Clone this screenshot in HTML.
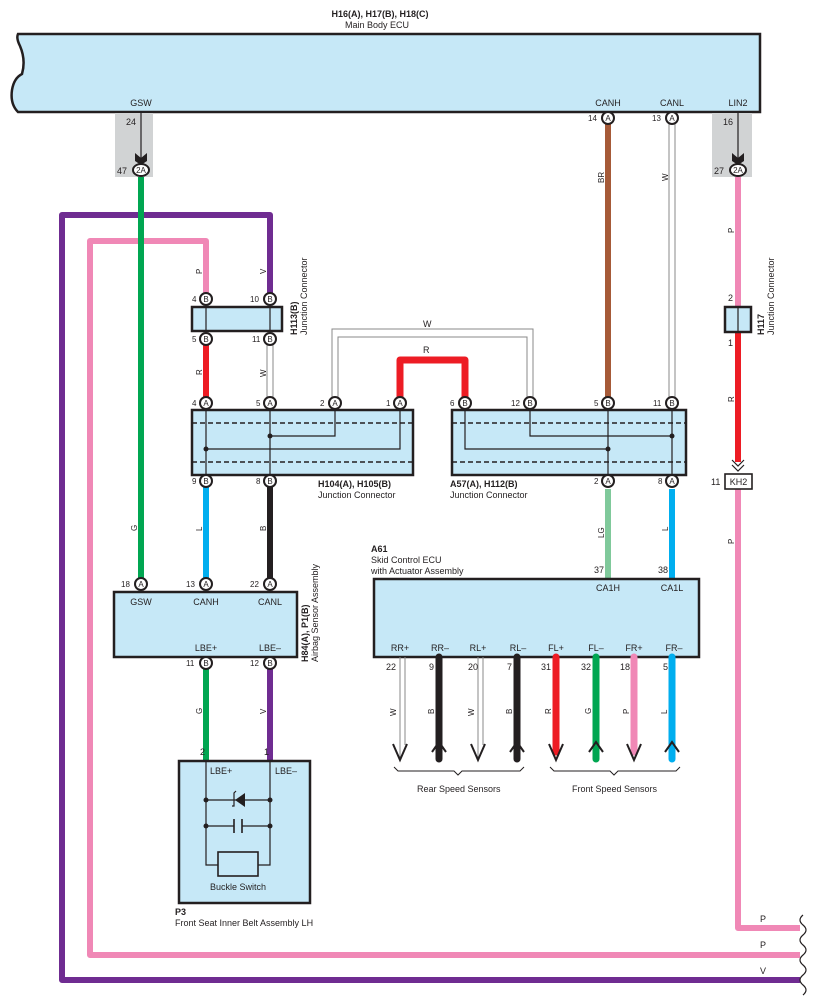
<!DOCTYPE html>
<html><head><meta charset="utf-8"><style>
html,body{margin:0;padding:0;background:#fff}
svg{display:block;font-family:"Liberation Sans",sans-serif;font-size:9px;fill:#231f20}
.b{font-weight:bold}
.box{fill:#c6e8f7;stroke:#231f20;stroke-width:2.5}
.pc{fill:#fff;stroke:#231f20;stroke-width:2}
.ln{stroke:#231f20;stroke-width:1.2;fill:none}
.dash{stroke:#231f20;stroke-width:1.5;stroke-dasharray:5 3}
.w{stroke:#888;stroke-width:1;fill:none}
.pl{font-size:8px}
</style></head><body>
<svg width="822" height="1004" viewBox="0 0 822 1004" xmlns="http://www.w3.org/2000/svg">
<!-- Main ECU -->
<text x="380" y="17" class="b" text-anchor="middle">H16(A), H17(B), H18(C)</text>
<text x="345" y="28">Main Body ECU</text>
<path class="box" d="M18,34 H760 V112 H18 Q10,104 12,90 Q14,78 22,74 Q26,60 20,46 Q16,38 18,34 Z"/>
<text x="141" y="106" text-anchor="middle">GSW</text>
<text x="608" y="106" text-anchor="middle">CANH</text>
<text x="672" y="106" text-anchor="middle">CANL</text>
<text x="738" y="106" text-anchor="middle">LIN2</text>
<!-- grey boxes -->
<rect x="115" y="113" width="38" height="64" fill="#d1d3d4"/>
<rect x="712" y="113" width="40" height="64" fill="#d1d3d4"/>
<line x1="141" y1="113" x2="141" y2="158" class="ln"/>
<path d="M135,153 L141,158 L147,153 L147,161 L141,165 L135,161 Z" fill="#231f20"/>
<line x1="738" y1="113" x2="738" y2="158" class="ln"/>
<path d="M732,153 L738,158 L744,153 L744,161 L738,165 L732,161 Z" fill="#231f20"/>
<text x="126" y="125">24</text><text x="723" y="125">16</text>
<text x="117" y="174">47</text><text x="714" y="174">27</text>
<!-- long loops -->
<path d="M270,299 V215 H62 V980 H800" stroke="#6f2c91" stroke-width="6" fill="none" stroke-linejoin="round"/>
<path d="M206,299 V241 H90 V955 H800" stroke="#f088b6" stroke-width="6" fill="none" stroke-linejoin="round"/>
<path d="M738,489 V928 H800" stroke="#f088b6" stroke-width="6" fill="none" stroke-linejoin="round"/>
<path d="M803,915 q-6,5 0,10 q6,5 0,10 q-6,5 0,10 q6,5 0,10 q-6,5 0,10 q6,5 0,10 q-6,5 0,10 q6,5 0,10" class="ln"/>
<text x="760" y="922">P</text><text x="760" y="948">P</text><text x="760" y="974">V</text>
<!-- vertical wires -->
<line x1="141" y1="177" x2="141" y2="584" stroke="#00a651" stroke-width="6"/>
<line x1="608" y1="118" x2="608" y2="403" stroke="#a65a38" stroke-width="6"/>
<line x1="669" y1="118" x2="669" y2="403" class="w"/><line x1="675" y1="118" x2="675" y2="403" class="w"/>
<line x1="738" y1="177" x2="738" y2="307" stroke="#f088b6" stroke-width="6"/>
<line x1="738" y1="332" x2="738" y2="462" stroke="#ed1c24" stroke-width="6"/>
<path d="M732,460 L738,466 L744,460 M732,465 L738,471 L744,465" class="ln" stroke-width="1.6"/>
<line x1="206" y1="339" x2="206" y2="403" stroke="#ed1c24" stroke-width="6"/>
<line x1="267" y1="339" x2="267" y2="403" class="w"/><line x1="273" y1="339" x2="273" y2="403" class="w"/>
<path d="M332,403 V329 H533 V403" class="w"/><path d="M338,403 V337 H527 V403" class="w"/>
<path d="M400,403 V360 H465 V403" stroke="#ed1c24" stroke-width="7" fill="none" stroke-linejoin="round"/>
<line x1="206" y1="481" x2="206" y2="584" stroke="#00aeef" stroke-width="6"/>
<line x1="270" y1="481" x2="270" y2="584" stroke="#231f20" stroke-width="6"/>
<line x1="608" y1="489" x2="608" y2="579" stroke="#80c99b" stroke-width="6"/>
<line x1="672" y1="489" x2="672" y2="579" stroke="#00aeef" stroke-width="6"/>
<line x1="206" y1="663" x2="206" y2="761" stroke="#00a651" stroke-width="6"/>
<line x1="270" y1="663" x2="270" y2="761" stroke="#6f2c91" stroke-width="6"/>
<!-- wire labels rotated -->
<g class="pl">
<text transform="translate(202,274) rotate(-90)">P</text>
<text transform="translate(266,274) rotate(-90)">V</text>
<text transform="translate(202,375) rotate(-90)">R</text>
<text transform="translate(266,377) rotate(-90)">W</text>
<text transform="translate(604,183) rotate(-90)">BR</text>
<text transform="translate(668,181) rotate(-90)">W</text>
<text transform="translate(734,233) rotate(-90)">P</text>
<text transform="translate(734,402) rotate(-90)">R</text>
<text transform="translate(734,544) rotate(-90)">P</text>
<text transform="translate(137,531) rotate(-90)">G</text>
<text transform="translate(202,531) rotate(-90)">L</text>
<text transform="translate(266,531) rotate(-90)">B</text>
<text transform="translate(604,538) rotate(-90)">LG</text>
<text transform="translate(668,531) rotate(-90)">L</text>
<text transform="translate(202,714) rotate(-90)">G</text>
<text transform="translate(266,714) rotate(-90)">V</text>
</g>
<text x="423" y="327">W</text><text x="423" y="353">R</text>
<!-- H113 -->
<rect class="box" x="192" y="307" width="90" height="24"/>
<line x1="206" y1="307" x2="206" y2="331" class="ln"/><line x1="270" y1="307" x2="270" y2="331" class="ln"/>
<text transform="translate(297,335) rotate(-90)" class="b">H113(B)</text>
<text transform="translate(307,335) rotate(-90)">Junction Connector</text>
<!-- H117 -->
<rect class="box" x="725" y="307" width="26" height="25"/>
<line x1="738" y1="307" x2="738" y2="332" class="ln"/>
<text x="728" y="301">2</text><text x="728" y="346">1</text>
<text transform="translate(764,335) rotate(-90)" class="b">H117</text>
<text transform="translate(774,335) rotate(-90)">Junction Connector</text>
<rect x="725" y="474" width="27" height="15" fill="#fff" stroke="#231f20" stroke-width="1.6"/>
<text x="738.5" y="485" text-anchor="middle">KH2</text><text x="711" y="485">11</text>
<!-- H104 -->
<rect class="box" x="192" y="410" width="221" height="65"/>
<line x1="192" y1="423" x2="413" y2="423" class="dash"/><line x1="192" y1="462" x2="413" y2="462" class="dash"/>
<path d="M206,410 V475 M270,410 V475 M335,410 V436 H270 M400,410 V449 H206" class="ln"/>
<circle cx="270" cy="436" r="2.5"/><circle cx="206" cy="449" r="2.5"/>
<text x="318" y="487" class="b">H104(A), H105(B)</text><text x="318" y="498">Junction Connector</text>
<!-- A57 -->
<rect class="box" x="452" y="410" width="234" height="65"/>
<line x1="452" y1="423" x2="686" y2="423" class="dash"/><line x1="452" y1="462" x2="686" y2="462" class="dash"/>
<path d="M608,410 V475 M672,410 V475 M465,410 V449 H608 M530,410 V436 H672" class="ln"/>
<circle cx="608" cy="449" r="2.5"/><circle cx="672" cy="436" r="2.5"/>
<text x="450" y="487" class="b">A57(A), H112(B)</text><text x="450" y="498">Junction Connector</text>
<!-- H84 -->
<rect class="box" x="114" y="592" width="183" height="65"/>
<text x="141" y="605" text-anchor="middle">GSW</text><text x="206" y="605" text-anchor="middle">CANH</text><text x="270" y="605" text-anchor="middle">CANL</text>
<text x="206" y="651" text-anchor="middle">LBE+</text><text x="270" y="651" text-anchor="middle">LBE–</text>
<text transform="translate(308,662) rotate(-90)" class="b">H84(A), P1(B)</text>
<text transform="translate(318,662) rotate(-90)">Airbag Sensor Assembly</text>
<!-- P3 -->
<rect class="box" x="179" y="761" width="131" height="142"/>
<path d="M206,761 V865 H218 M270,761 V865 H258 M206,800 H270 M206,826 H234 M242,826 H270" class="ln"/>
<path d="M234,819 V833 M242,819 V833" stroke="#231f20" stroke-width="1.6"/>
<circle cx="206" cy="800" r="2.5"/><circle cx="270" cy="800" r="2.5"/><circle cx="206" cy="826" r="2.5"/><circle cx="270" cy="826" r="2.5"/>
<path d="M245,793 L245,807 L235,800 Z" fill="#231f20"/>
<path d="M232,806 L234,806 L234,793 L236,791" class="ln"/>
<rect x="218" y="852" width="40" height="24" fill="#c6e8f7" stroke="#231f20" stroke-width="1.6"/>
<text x="238" y="890" text-anchor="middle">Buckle Switch</text>
<text x="210" y="774">LBE+</text><text x="275" y="774">LBE–</text>
<text x="200" y="755">2</text><text x="264" y="755">1</text>
<text x="175" y="915" class="b">P3</text><text x="175" y="926">Front Seat Inner Belt Assembly LH</text>
<!-- A61 -->
<text x="371" y="552" class="b">A61</text><text x="371" y="563">Skid Control ECU</text><text x="371" y="574">with Actuator Assembly</text>
<rect class="box" x="374" y="579" width="325" height="78"/>
<text x="594" y="573">37</text><text x="658" y="573">38</text>
<text x="608" y="591" text-anchor="middle">CA1H</text><text x="672" y="591" text-anchor="middle">CA1L</text>
<g text-anchor="middle">
<text x="400" y="651">RR+</text><text x="440" y="651">RR–</text><text x="478" y="651">RL+</text><text x="518" y="651">RL–</text>
<text x="556" y="651">FL+</text><text x="596" y="651">FL–</text><text x="634" y="651">FR+</text><text x="674" y="651">FR–</text>
</g>
<text x="386" y="670">22</text><text x="429" y="670">9</text><text x="468" y="670">20</text><text x="507" y="670">7</text>
<text x="541" y="670">31</text><text x="581" y="670">32</text><text x="620" y="670">18</text><text x="663" y="670">5</text>
<!-- sensor wires -->
<line x1="400" y1="657" x2="400" y2="760" class="w"/><line x1="405" y1="657" x2="405" y2="745" class="w"/>
<line x1="478" y1="657" x2="478" y2="760" class="w"/><line x1="483" y1="657" x2="483" y2="745" class="w"/>
<g stroke-width="7" stroke-linecap="round">
<line x1="439" y1="657" x2="439" y2="759" stroke="#231f20"/>
<line x1="517" y1="657" x2="517" y2="759" stroke="#231f20"/>
<line x1="556" y1="657" x2="556" y2="752" stroke="#ed1c24"/>
<line x1="596" y1="657" x2="596" y2="759" stroke="#00a651"/>
<line x1="634" y1="657" x2="634" y2="752" stroke="#f088b6"/>
<line x1="672" y1="657" x2="672" y2="759" stroke="#00aeef"/>
</g>
<g fill="none" stroke="#231f20" stroke-width="2">
<path d="M393,744 L400,760 L407,744"/><path d="M471,744 L478,760 L485,744"/>
<path d="M549,744 L556,760 L563,744"/><path d="M627,744 L634,760 L641,744"/>
<path d="M432,752 L439,742 L446,752"/><path d="M510,752 L517,742 L524,752"/>
<path d="M589,752 L596,742 L603,752"/><path d="M665,752 L672,742 L679,752"/>
<path d="M394,767 L398,771 H454 L458,775 L462,771 H520 L524,767" stroke-width="1"/>
<path d="M550,767 L554,771 H610 L614,775 L618,771 H676 L680,767" stroke-width="1"/>
</g>
<g class="pl">
<text transform="translate(396,716) rotate(-90)">W</text><text transform="translate(434,714) rotate(-90)">B</text>
<text transform="translate(474,716) rotate(-90)">W</text><text transform="translate(512,714) rotate(-90)">B</text>
<text transform="translate(551,714) rotate(-90)">R</text><text transform="translate(591,714) rotate(-90)">G</text>
<text transform="translate(629,714) rotate(-90)">P</text><text transform="translate(667,714) rotate(-90)">L</text>
</g>
<text x="417" y="792">Rear Speed Sensors</text><text x="572" y="792">Front Speed Sensors</text>
<!-- pins -->
<g font-size="8">
<g><ellipse class="pc" cx="141" cy="170" rx="8" ry="6"/><text x="141" y="173" text-anchor="middle">2A</text></g>
<g><ellipse class="pc" cx="738" cy="170" rx="8" ry="6"/><text x="738" y="173" text-anchor="middle">2A</text></g>
<circle class="pc" cx="608" cy="118" r="6"/><text x="608" y="121" text-anchor="middle">A</text><text x="588" y="121">14</text>
<circle class="pc" cx="672" cy="118" r="6"/><text x="672" y="121" text-anchor="middle">A</text><text x="652" y="121">13</text>
<circle class="pc" cx="206" cy="299" r="6"/><text x="206" y="302" text-anchor="middle">B</text><text x="192" y="302">4</text>
<circle class="pc" cx="270" cy="299" r="6"/><text x="270" y="302" text-anchor="middle">B</text><text x="250" y="302">10</text>
<circle class="pc" cx="206" cy="339" r="6"/><text x="206" y="342" text-anchor="middle">B</text><text x="192" y="342">5</text>
<circle class="pc" cx="270" cy="339" r="6"/><text x="270" y="342" text-anchor="middle">B</text><text x="252" y="342">11</text>
<circle class="pc" cx="206" cy="403" r="6"/><text x="206" y="406" text-anchor="middle">A</text><text x="192" y="406">4</text>
<circle class="pc" cx="270" cy="403" r="6"/><text x="270" y="406" text-anchor="middle">A</text><text x="256" y="406">5</text>
<circle class="pc" cx="335" cy="403" r="6"/><text x="335" y="406" text-anchor="middle">A</text><text x="320" y="406">2</text>
<circle class="pc" cx="400" cy="403" r="6"/><text x="400" y="406" text-anchor="middle">A</text><text x="386" y="406">1</text>
<circle class="pc" cx="465" cy="403" r="6"/><text x="465" y="406" text-anchor="middle">B</text><text x="450" y="406">6</text>
<circle class="pc" cx="530" cy="403" r="6"/><text x="530" y="406" text-anchor="middle">B</text><text x="511" y="406">12</text>
<circle class="pc" cx="608" cy="403" r="6"/><text x="608" y="406" text-anchor="middle">B</text><text x="594" y="406">5</text>
<circle class="pc" cx="672" cy="403" r="6"/><text x="672" y="406" text-anchor="middle">B</text><text x="653" y="406">11</text>
<circle class="pc" cx="206" cy="481" r="6"/><text x="206" y="484" text-anchor="middle">B</text><text x="192" y="484">9</text>
<circle class="pc" cx="270" cy="481" r="6"/><text x="270" y="484" text-anchor="middle">B</text><text x="256" y="484">8</text>
<circle class="pc" cx="608" cy="481" r="6"/><text x="608" y="484" text-anchor="middle">A</text><text x="594" y="484">2</text>
<circle class="pc" cx="672" cy="481" r="6"/><text x="672" y="484" text-anchor="middle">A</text><text x="658" y="484">8</text>
<circle class="pc" cx="141" cy="584" r="6"/><text x="141" y="587" text-anchor="middle">A</text><text x="121" y="587">18</text>
<circle class="pc" cx="206" cy="584" r="6"/><text x="206" y="587" text-anchor="middle">A</text><text x="186" y="587">13</text>
<circle class="pc" cx="270" cy="584" r="6"/><text x="270" y="587" text-anchor="middle">A</text><text x="250" y="587">22</text>
<circle class="pc" cx="206" cy="663" r="6"/><text x="206" y="666" text-anchor="middle">B</text><text x="186" y="666">11</text>
<circle class="pc" cx="270" cy="663" r="6"/><text x="270" y="666" text-anchor="middle">B</text><text x="250" y="666">12</text>
</g>
</svg>
</body></html>
